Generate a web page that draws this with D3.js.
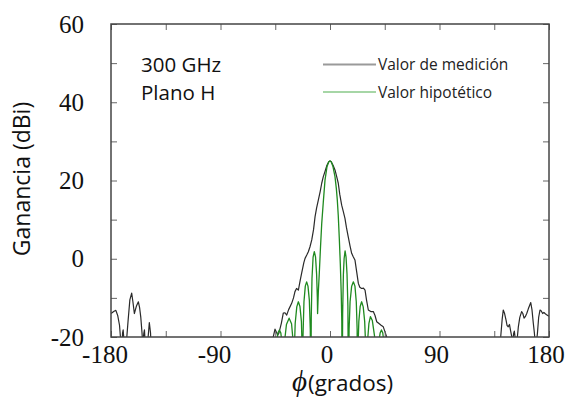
<!DOCTYPE html>
<html>
<head>
<meta charset="utf-8">
<script src="https://cdn.jsdelivr.net/npm/d3@7/dist/d3.min.js"></script>
<style>
  html, body { margin: 0; padding: 0; background: #fff; }
  svg { display: block; }
</style>
</head>
<body>
<svg id="chart" width="566" height="400"></svg>
<script>
// Axis ranges and tick labels
const xDomain = [-180, 180];
const yDomain = [-20, 60];
const xTickValues = [-180, -135, -90, -45, 0, 45, 90, 135, 180];
const xTickLabels = [-180, -90, 0, 90, 180];
const yTickValues = [-20, -10, 0, 10, 20, 30, 40, 50, 60];
const yTickLabels = [-20, 0, 20, 40, 60];

// Series names
const seriesNames = ["Valor de medición", "Valor hipotético"];

// Measured H-plane gain at 300 GHz: [angle (deg), gain (dBi)]
const measured = [
  [-180,-14],[-177.5,-13.4],[-176,-13.2],[-174.5,-14.5],[-173,-17],[-172,-21],[-171,-24],
  [-170.5,-19],[-170,-18.2],[-169.3,-21],[-168.5,-24],[-167.5,-22],[-166,-16],[-164.5,-10.5],
  [-163,-8.8],[-162,-11],[-160.8,-14],[-159,-12],[-157.5,-11],[-156.5,-12.5],[-155.5,-15],
  [-154.5,-19],[-153.9,-22],[-153,-19],[-152.5,-18.2],[-152,-21],[-151,-25],[-150,-22],
  [-148.5,-16.3],[-147.5,-19],[-147,-23],[-146,-28],[-140,-30],[-100,-32],[-60,-30],[-48,-24],
  [-47,-21],[-46.6,-19.9],[-45.2,-18],[-44,-18.8],[-43,-19.5],[-42,-19],[-40,-16.5],
  [-38.4,-13.9],[-37,-13.8],[-35.6,-14.4],[-34,-13],[-31.5,-11.4],[-30,-10],[-28.8,-8.4],
  [-27.5,-7.6],[-26,-8],[-24.5,-5.5],[-23.3,-3.7],[-21.5,-1],[-20.5,0.1],[-19,1],[-17.8,1.8],
  [-16.5,3],[-15,4.8],[-13.5,7.5],[-12.3,10.7],[-11,13],[-9.6,15],[-8,17.3],[-6.8,19.3],
  [-5.5,21],[-4.1,22.3],[-2.5,23.9],[-1,24.8],[0,25],[1,24.8],[2.5,23.9],[4.1,22.7],
  [5.5,21],[6.8,19.3],[8,16.5],[9.6,13.7],[11,12],[12.3,10.3],[13.5,8],[15,5.6],[16.5,3.2],
  [17.8,1.4],[19,0.6],[20.5,-0.3],[22,-3.5],[23.3,-6.3],[24.5,-7.3],[26,-7.6],[27.5,-7.5],
  [28.8,-8],[30,-10.5],[31.5,-13.1],[33.5,-13.5],[35.6,-13.5],[37,-14.5],[38.4,-16.1],
  [40,-16.5],[42,-17],[43.8,-17.4],[45,-18.5],[46.6,-20],[48,-23],[60,-30],[100,-31],
  [138,-28],[139.5,-23],[140.3,-20],[141.5,-15.5],[142.4,-13.1],[143.5,-14],[144.7,-15.7],
  [145.5,-17],[146.5,-17.4],[147.5,-16.8],[148.5,-18.5],[149.3,-19.8],[150,-21.5],[151,-19],
  [151.5,-18.5],[152.3,-20.5],[153,-22],[154,-20],[154.8,-17.4],[156,-15],[157.5,-13.5],
  [158.5,-14],[159.5,-15.2],[160.5,-14.8],[161.7,-14],[163,-12.8],[165,-11.2],[166,-13],
  [167.1,-16.5],[168,-19],[168.5,-21],[169.5,-22],[170.5,-19],[171.5,-15],[172.6,-13.1],
  [173.5,-13.3],[174.8,-14],[175.8,-13.7],[176.7,-14],[178,-14.3],[180,-14.7]
];

// Theoretical H-plane gain: [angle (deg), gain (dBi)]
const theoretical = [
  [-45.5,-40],[-44.7,-26],[-43.8,-21.5],[-42.8,-19],[-41.6,-18.2],[-40.4,-19],[-39.5,-21.5],[-38.9,-26],[-38.6,-40],
  [-38.1,-27],[-37.3,-21],[-35.8,-16.8],[-33.6,-15.2],[-31.6,-16.6],[-30.5,-20.5],[-30.1,-27],[-29.9,-40],
  [-29.4,-24],[-28.6,-16.5],[-27.3,-12.3],[-26,-11],[-24.7,-12.2],[-23.5,-16],[-22.9,-23],[-22.6,-40],
  [-22.2,-20],[-21.4,-11],[-20.3,-7],[-19.2,-5.9],[-18.1,-7],[-17,-10.5],[-16.2,-18],[-15.8,-40],
  [-15.4,-15],[-14.8,-5],[-13.9,0.4],[-12.9,1.8],[-11.9,0.5],[-11,-4],[-10.4,-10],[-10.2,-14],
  [-9.6,-8.5],[-8.8,-3.7],[-7.8,3],[-6.8,9],[-5.5,14.5],[-4.1,20.1],[-2.5,23.5],[-1,24.8],[0,25],
  [1,24.8],[2.5,23.5],[4.1,21],[5.2,18],[6,15],[6.8,11],[7.7,4.8],[8.5,-1.5],[9.2,-8.5],[9.7,-16],[10,-40],
  [10.4,-14],[11,-4],[11.6,0],[12.4,2],[13.2,0.4],[14,-4],[14.7,-12],[15.2,-40],
  [15.7,-18],[16.5,-11],[17.8,-7],[19.2,-5.9],[20.5,-7],[21.6,-11],[22.3,-18],[22.6,-40],
  [23,-23],[23.7,-16],[24.8,-12.2],[26,-11],[27.3,-12.3],[28.5,-16],[29.4,-23],[29.9,-40],
  [30.3,-27],[31,-20.5],[32,-16.5],[33.2,-14.8],[34.8,-15.8],[36.5,-19.5],[37.8,-24],[38.6,-40],
  [39,-28],[40,-21.5],[41.2,-19],[42.3,-18.2],[43.4,-19],[44.3,-21.5],[45,-26],[45.5,-40]
];

const margin = { left: 111, right: 17, top: 24, bottom: 63 };
const W = 566, H = 400;
const innerW = W - margin.left - margin.right;
const innerH = H - margin.top - margin.bottom;

const svg = d3.select("#chart");

const x = d3.scaleLinear().domain(xDomain).range([margin.left, margin.left + innerW]);
const y = d3.scaleLinear().domain(yDomain).range([margin.top + innerH, margin.top]);

svg.append("defs").append("clipPath").attr("id", "plot-clip")
  .append("rect")
  .attr("x", margin.left).attr("y", margin.top)
  .attr("width", innerW).attr("height", innerH);

const line = d3.line().x(d => x(d[0])).y(d => y(d[1]));

const plot = svg.append("g").attr("clip-path", "url(#plot-clip)");

plot.append("path")
  .datum(measured)
  .attr("fill", "none")
  .attr("stroke", "#2a2a2a")
  .attr("stroke-width", 1.2)
  .attr("stroke-linejoin", "round")
  .attr("d", line);

plot.append("path")
  .datum(theoretical)
  .attr("fill", "none")
  .attr("stroke", "#1f8a1f")
  .attr("stroke-width", 1.3)
  .attr("stroke-linejoin", "round")
  .attr("d", line);

// Inward ticks on all four sides
const tickLen = 6;
const tickColor = "#666";
const fmtTick = () => "";

svg.append("g")
  .attr("transform", `translate(0,${margin.top + innerH})`)
  .call(d3.axisTop(x).tickValues(xTickValues).tickSize(tickLen).tickFormat(fmtTick))
  .call(g => g.select(".domain").remove())
  .call(g => g.selectAll("line").attr("stroke", tickColor));

svg.append("g")
  .attr("transform", `translate(0,${margin.top})`)
  .call(d3.axisBottom(x).tickValues(xTickValues).tickSize(tickLen).tickFormat(fmtTick))
  .call(g => g.select(".domain").remove())
  .call(g => g.selectAll("line").attr("stroke", tickColor));

svg.append("g")
  .attr("transform", `translate(${margin.left},0)`)
  .call(d3.axisRight(y).tickValues(yTickValues).tickSize(tickLen).tickFormat(fmtTick))
  .call(g => g.select(".domain").remove())
  .call(g => g.selectAll("line").attr("stroke", tickColor));

svg.append("g")
  .attr("transform", `translate(${margin.left + innerW},0)`)
  .call(d3.axisLeft(y).tickValues(yTickValues).tickSize(tickLen).tickFormat(fmtTick))
  .call(g => g.select(".domain").remove())
  .call(g => g.selectAll("line").attr("stroke", tickColor));

// Frame
svg.append("rect")
  .attr("x", margin.left).attr("y", margin.top)
  .attr("width", innerW).attr("height", innerH)
  .attr("fill", "none").attr("stroke", "#444").attr("stroke-width", 1.5);

// Tick labels
const serif = "'Liberation Serif', 'Times New Roman', serif";
const sans = "'Open Sans', 'Noto Sans', sans-serif";

svg.append("g").selectAll("text")
  .data(xTickLabels)
  .join("text")
  .attr("x", d => x(d) + (d < 0 ? -6 : -3))
  .attr("y", 363)
  .attr("text-anchor", "middle")
  .attr("font-family", serif)
  .attr("font-size", 25)
  .attr("fill", "#111")
  .text(d => d);

svg.append("g").selectAll("text")
  .data(yTickLabels)
  .join("text")
  .attr("x", 84)
  .attr("y", d => y(d) + 8.5)
  .attr("text-anchor", "end")
  .attr("font-family", serif)
  .attr("font-size", 25)
  .attr("fill", "#111")
  .text(d => d);

// Axis titles
svg.append("text")
  .attr("transform", `translate(30,179) rotate(-90)`)
  .attr("text-anchor", "middle")
  .attr("font-family", sans)
  .attr("font-size", 23)
  .attr("fill", "#111")
  .text("Ganancia (dBi)");

const xTitle = svg.append("text")
  .attr("x", 292)
  .attr("y", 391)
  .attr("fill", "#111");
xTitle.append("tspan")
  .attr("font-family", serif)
  .attr("font-style", "italic")
  .attr("font-size", 29)
  .text("ϕ");
xTitle.append("tspan")
  .attr("font-family", sans)
  .attr("font-size", 22.5)
  .attr("dx", 1)
  .text("(grados)");

// Frequency / plane annotation
svg.append("text")
  .attr("x", 141).attr("y", 72)
  .attr("font-family", sans).attr("font-size", 20.5).attr("fill", "#111")
  .text("300 GHz");
svg.append("text")
  .attr("x", 141).attr("y", 100)
  .attr("font-family", sans).attr("font-size", 20.5).attr("fill", "#111")
  .text("Plano H");

// Legend
const legendColors = ["#9a9a9a", "#a6d6a6"];
const legendY = [64.5, 92];
const legend = svg.append("g");
seriesNames.forEach((name, i) => {
  legend.append("line")
    .attr("x1", 323).attr("x2", 376)
    .attr("y1", legendY[i]).attr("y2", legendY[i])
    .attr("stroke", legendColors[i]).attr("stroke-width", 2);
  legend.append("text")
    .attr("x", 378).attr("y", legendY[i] + 5.5)
    .attr("font-family", sans).attr("font-size", 15.5).attr("fill", "#222")
    .text(name);
});
</script>
</body>
</html>
